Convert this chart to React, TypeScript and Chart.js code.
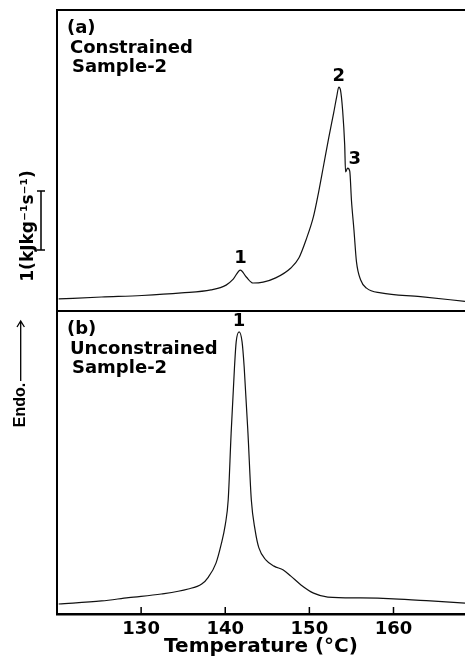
import { useEffect, useRef } from 'react';
import { Chart, registerables } from 'chart.js';

Chart.register(...registerables);

// ---- data (temperature in °C, heat flow in arbitrary units 0-100 per panel) ----
const tempA = [120.2, 125.3, 130.1, 134.8, 138.3, 140.1, 140.95, 141.8, 142.5, 143.3, 144.5, 146.0, 147.8, 148.75, 149.6, 150.5, 151.1, 151.7, 152.3, 152.9, 153.25, 153.5, 153.7, 153.95, 154.2, 154.3, 154.55, 154.8, 155.0, 155.3, 155.6, 156.1, 156.8, 158.5, 163.2, 168.5];
const heatA = [4.0, 4.65, 5.15, 6.0, 7.0, 8.6, 10.6, 13.6, 11.3, 9.3, 9.6, 11.0, 14.3, 17.6, 23.6, 31.5, 39.5, 48.5, 57.5, 66.0, 71.2, 74.4, 73.4, 66.8, 55.1, 46.2, 47.5, 46.5, 36.9, 26.9, 16.3, 10.3, 7.6, 6.0, 4.8, 3.2];

const tempB = [120.2, 125.3, 128.5, 132.4, 135.6, 137.2, 138.0, 138.9, 139.5, 140.0, 140.35, 140.7, 141.1, 141.3, 141.65, 142.0, 142.25, 142.7, 143.1, 143.55, 144.0, 144.85, 145.8, 146.9, 147.8, 149.0, 150.5, 152.2, 156.1, 160.0, 164.4, 168.5];
const heatB = [3.3, 4.3, 5.4, 6.6, 8.25, 9.9, 12.2, 16.8, 22.8, 29.4, 37.6, 59.7, 81.5, 89.8, 93.1, 89.8, 81.5, 59.7, 37.6, 27.7, 21.8, 17.8, 15.8, 14.5, 12.5, 9.6, 6.9, 5.6, 5.3, 5.0, 4.3, 3.6];

const xTickValues = [130, 140, 150, 160];
const xTitle = 'Temperature (°C)';
const yLabel = '1(kJkg⁻¹s⁻¹)';
const endoLabel = 'Endo.';

const panelTextA = ['(a)', 'Constrained', 'Sample-2'];
const panelTextB = ['(b)', 'Unconstrained', 'Sample-2'];

const peakLabelsA = ['1', '2', '3'];
const peakTempsA = [141.8, 153.5, 154.55];
const peakHeatA = [13.6, 74.4, 47.5];
const peakLabelsB = ['1'];
const peakTempsB = [141.65];
const peakHeatB = [93.1];

const X_MIN = 120;
const X_MAX = 168.5;

const FONT = '"DejaVu Sans", sans-serif';
const INK = '#111';

function pts(xs: number[], ys: number[]) {
  return xs.map((x, i) => ({ x, y: ys[i] }));
}

function drawPanelText(ctx: CanvasRenderingContext2D, lines: string[], top: number) {
  const xs = [67, 70, 72];
  const dy = [23, 43, 62];
  ctx.font = `bold 18px ${FONT}`;
  ctx.textAlign = 'left';
  ctx.textBaseline = 'alphabetic';
  lines.forEach((t, i) => ctx.fillText(t, xs[i], top + dy[i]));
}

function drawPeakLabels(chart: any, labels: string[], ts: number[], hs: number[], dxs: number[], dys: number[]) {
  const { ctx, scales } = chart;
  ctx.font = `bold 18px ${FONT}`;
  ctx.textAlign = 'center';
  ctx.textBaseline = 'middle';
  labels.forEach((l, i) => {
    const px = scales.x.getPixelForValue(ts[i]) + dxs[i];
    const py = scales.y.getPixelForValue(hs[i]) - dys[i];
    ctx.fillText(l, px, py);
  });
}

const topPlugin = {
  id: 'topPanel',
  afterDraw(chart: any) {
    const { ctx, chartArea: a } = chart;
    ctx.save();
    ctx.strokeStyle = '#000';
    ctx.lineWidth = 2;
    ctx.beginPath();
    ctx.moveTo(a.left, a.bottom);
    ctx.lineTo(a.left, a.top);
    ctx.lineTo(a.right, a.top);
    ctx.moveTo(a.left, a.bottom);
    ctx.lineTo(a.right, a.bottom);
    ctx.stroke();

    ctx.fillStyle = '#000';
    drawPanelText(ctx, panelTextA, a.top);
    drawPeakLabels(chart, peakLabelsA, peakTempsA, peakHeatA, [0, 0, 7], [12, 11, 9]);

    // vertical y label
    ctx.save();
    ctx.translate(29, 226);
    ctx.rotate(-Math.PI / 2);
    ctx.font = `bold 17px ${FONT}`;
    ctx.textAlign = 'center';
    ctx.textBaseline = 'middle';
    ctx.fillText(yLabel, 0, 0);
    ctx.restore();

    // scale bar
    ctx.lineWidth = 1.5;
    ctx.beginPath();
    ctx.moveTo(41, 191);
    ctx.lineTo(41, 250);
    ctx.moveTo(37, 191);
    ctx.lineTo(45, 191);
    ctx.moveTo(37, 250);
    ctx.lineTo(45, 250);
    ctx.stroke();
    ctx.restore();
  },
};

const bottomPlugin = {
  id: 'bottomPanel',
  afterDraw(chart: any) {
    const { ctx, chartArea: a, scales } = chart;
    ctx.save();
    ctx.strokeStyle = '#000';
    ctx.lineWidth = 2;
    ctx.beginPath();
    ctx.moveTo(a.left, a.top);
    ctx.lineTo(a.left, a.bottom);
    ctx.stroke();

    // inward tick marks
    ctx.lineWidth = 1.5;
    ctx.beginPath();
    scales.x.ticks.forEach((t: any) => {
      const px = scales.x.getPixelForValue(t.value);
      ctx.moveTo(px, a.bottom);
      ctx.lineTo(px, a.bottom - 7);
    });
    ctx.stroke();

    ctx.fillStyle = '#000';
    drawPanelText(ctx, panelTextB, a.top);
    drawPeakLabels(chart, peakLabelsB, peakTempsB, peakHeatB, [0], [11]);

    // Endo. label with arrow
    ctx.save();
    ctx.translate(20.5, 94);
    ctx.rotate(-Math.PI / 2);
    ctx.font = `bold 16px "Liberation Sans", sans-serif`;
    ctx.textAlign = 'center';
    ctx.textBaseline = 'middle';
    ctx.fillText(endoLabel, 0, 0);
    ctx.restore();

    ctx.lineWidth = 1.3;
    ctx.beginPath();
    ctx.moveTo(20.7, 70);
    ctx.lineTo(20.7, 10);
    ctx.moveTo(17, 16);
    ctx.lineTo(20.7, 10);
    ctx.lineTo(24.4, 16);
    ctx.stroke();
    ctx.restore();
  },
};

function lineDataset(xs: number[], ys: number[]) {
  return {
    data: pts(xs, ys),
    borderColor: INK,
    borderWidth: 1.2,
    pointRadius: 0,
    fill: false,
    cubicInterpolationMode: 'monotone' as const,
  };
}

export default function App() {
  const topRef = useRef<HTMLCanvasElement>(null);
  const botRef = useRef<HTMLCanvasElement>(null);

  useEffect(() => {
    const top = new Chart(topRef.current!, {
      type: 'line',
      data: { datasets: [lineDataset(tempA, heatA)] },
      options: {
        responsive: false,
        animation: false,
        events: [],
        layout: { padding: { left: 57, top: 10, right: 0, bottom: 1 } },
        plugins: { legend: { display: false }, tooltip: { enabled: false } },
        scales: {
          x: { type: 'linear', min: X_MIN, max: X_MAX, display: false },
          y: { min: 0, max: 100, display: false },
        },
      },
      plugins: [topPlugin],
    });

    const bot = new Chart(botRef.current!, {
      type: 'line',
      data: { datasets: [lineDataset(tempB, heatB)] },
      options: {
        responsive: false,
        animation: false,
        events: [],
        layout: { padding: { left: 57, top: 0, right: 0, bottom: 0 } },
        plugins: { legend: { display: false }, tooltip: { enabled: false } },
        scales: {
          x: {
            type: 'linear',
            min: X_MIN,
            max: X_MAX,
            afterBuildTicks: (scale: any) => {
              scale.ticks = xTickValues.map((v) => ({ value: v }));
            },
            afterFit: (scale: any) => {
              scale.height = 43;
            },
            grid: { drawOnChartArea: false, drawTicks: false },
            border: { display: true, color: '#000', width: 2.5 },
            ticks: {
              color: '#000',
              padding: 5,
              maxRotation: 0,
              autoSkip: false,
              font: { family: FONT, size: 18, weight: 'bold', lineHeight: 1.1 },
              callback: (v: any) => String(v),
            },
            title: {
              display: true,
              text: xTitle,
              color: '#000',
              padding: { top: 0, bottom: 0 },
              font: { family: FONT, size: 20, weight: 'bold', lineHeight: 1.0 },
            },
          },
          y: { min: 0, max: 100, display: false },
        },
      },
      plugins: [bottomPlugin],
    });

    return () => {
      top.destroy();
      bot.destroy();
    };
  }, []);

  return (
    <div style={{ position: 'fixed', left: 0, top: 0, width: 465, height: 657, background: '#fff' }}>
      <canvas ref={topRef} width={465} height={312} style={{ position: 'absolute', left: 0, top: 0, display: 'block' }} />
      <canvas ref={botRef} width={465} height={346} style={{ position: 'absolute', left: 0, top: 311, display: 'block' }} />
    </div>
  );
}
